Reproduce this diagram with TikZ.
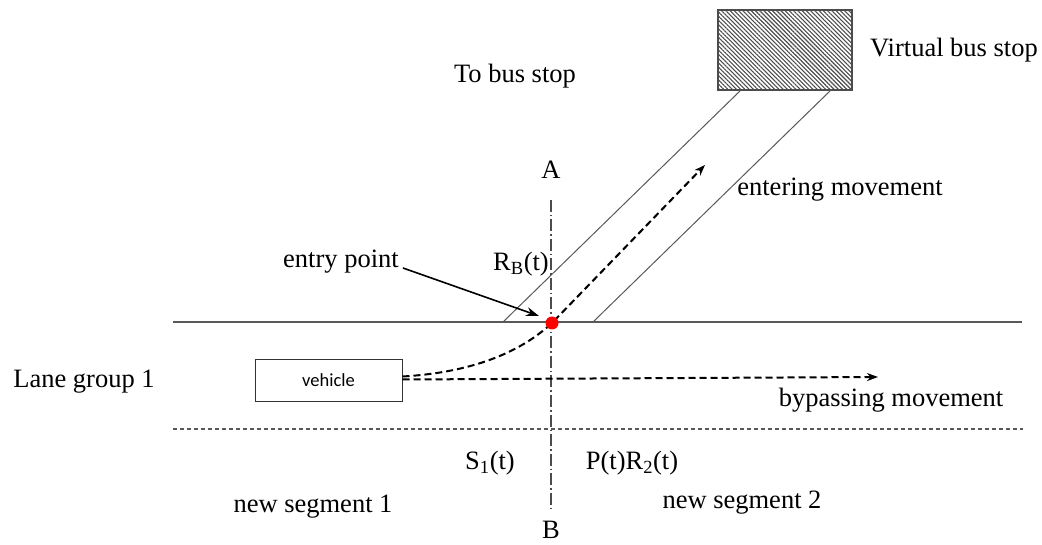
\documentclass[tikz,border=0pt]{standalone}
\usepackage{fontspec}
\setmainfont{Liberation Serif}
\newfontfamily\serifface{Liberation Serif}
\newfontfamily\labelsans{Carlito}
\usetikzlibrary{patterns.meta,arrows.meta}
\begin{document}
\begin{tikzpicture}[x=1pt,y=-1pt,
  lbl/.style={inner sep=0pt, font=\serifface\fontsize{26.5}{30}\selectfont},
  lane/.style={draw=gray!70!black, line width=1pt},
  road/.style={draw=gray!70!black, line width=1.4pt},
  sep/.style={draw=gray!70!black, line width=1.4pt, dash pattern=on 4pt off 3pt},
  axis/.style={draw=gray!60!black, line width=1.2pt, dash pattern=on 12pt off 3pt on 1.5pt off 3pt},
  move/.style={draw=black, line width=2pt, dash pattern=on 7pt off 4pt, -{Stealth[length=11pt,width=8pt]}},
  pointer/.style={draw=black, line width=1.6pt, -{Stealth[length=13pt,width=9pt]}},
  stopbox/.style={draw=gray!60!black, line width=1.4pt, inner sep=0pt,
    minimum width=134pt, minimum height=80pt,
    pattern={Lines[angle=-45,distance=3pt,line width=1.1pt]}, pattern color=gray!60!black},
  vehbox/.style={draw=black!80, line width=1pt, inner sep=0pt,
    minimum width=147pt, minimum height=41pt,
    font=\labelsans\fontsize{18.5}{20}\selectfont}
]
\useasboundingbox (0,0) rectangle (1042,545);

% virtual bus stop and its access lane
\node[stopbox] (stop) at (785,50) {};
\coordinate (laneAtop) at (741,90);
\coordinate (laneAbot) at (503,322);
\coordinate (laneBtop) at (831,90);
\coordinate (laneBbot) at (593,322);
\draw[lane] (laneAtop) -- (laneAbot);
\draw[lane] (laneBtop) -- (laneBbot);

% road edge, lane separator and section A-B
\coordinate (roadW) at (173,322);
\coordinate (roadE) at (1022,322);
\coordinate (sepW) at (173,429);
\coordinate (sepE) at (1023,429);
\coordinate (axisA) at (551,200);
\coordinate (axisB) at (551,508);
\draw[road] (roadW) -- (roadE);
\draw[sep] (sepW) -- (sepE);
\draw[axis] (axisA) -- (axisB);

% vehicle and its movements
\node[vehbox] (veh) at (328.5,380.5) {vehicle};
\coordinate (enterEnd) at (705,165);
\coordinate (bypassEnd) at (878,377);
\draw[move] ([yshift=4pt]veh.east) .. controls (480,372) and (525,348) .. (552,323) -- (enterEnd);
\draw[move] ([yshift=1pt]veh.east) -- (bypassEnd);

% entry point marker
\node[circle, fill=red, inner sep=0pt, minimum size=13pt] (entry) at (552,323) {};

% labels
\node[lbl] (vbs) at (954,50) {Virtual bus stop};
\node[lbl] (tobus) at (515,76) {To bus stop};
\node[lbl] (labA) at (551,170) {A};
\node[lbl] (labB) at (551,530) {B};
\node[lbl] (entering) at (840,190) {entering movement};
\node[lbl] (entrylbl) at (341,262) {entry point};
\node[lbl] (rb) at (521,264) {R\textsubscript{B}(t)};
\node[lbl] (lane1) at (84,382) {Lane group 1};
\node[lbl] (bypass) at (891,400) {bypassing movement};
\node[lbl] (s1) at (490,463) {S\textsubscript{1}(t)};
\node[lbl] (pr2) at (632,463) {P(t)R\textsubscript{2}(t)};
\node[lbl] (seg1) at (313,507) {new segment 1};
\node[lbl] (seg2) at (742,503) {new segment 2};

\coordinate (entryTip) at (539,316);
\draw[pointer] ([shift={(4,6)}]entrylbl.east) -- (entryTip);
\end{tikzpicture}
\end{document}
